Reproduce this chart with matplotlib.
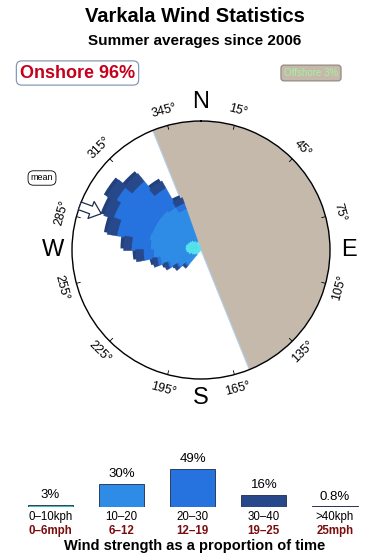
import numpy as np
from matplotlib import pyplot as plt
from matplotlib import transforms

plt.rcParams["font.family"] = ["Liberation Sans", "DejaVu Sans"]

# rose petals: bearing of each direction bin
directions = [225, 235, 245, 255, 265, 275, 285, 295, 305, 315, 325, 335]

# length of each speed class on every petal (rose scale, circle edge = 130)
seg_0_10 = [6, 8, 10, 13, 15, 16, 16, 15, 14, 13, 11, 9]
seg_10_20 = [13, 18, 24, 29, 33, 35, 37, 37, 38, 39, 39, 35]
seg_20_30 = [2, 2, 2, 3, 10, 19, 33, 42, 47, 38, 22, 6]
seg_30_40 = [3, 4, 4, 5, 8, 8, 10, 10, 10, 10, 8, 6]

# speed classes (bottom legend)
speed_pct = [3, 30, 49, 16, 0.8]
pct_labels = ["3%", "30%", "49%", "16%", "0.8%"]
kph_labels = ["0–10kph", "10–20", "20–30", "30–40", ">40kph"]
mph_labels = ["0–6mph", "6–12", "12–19", "19–25", "25mph"]
speed_colors = ["#55e3ee", "#2e8ce6", "#2672de", "#27498c", "#111111"]
legend_colors = ["#3fbcbc", "#2e8ce6", "#2672de", "#27498c", "#111111"]

offshore_start = 338  # offshore sector runs clockwise from this bearing
offshore_width = 180
mean_dir = 290
onshore_pct = 96
offshore_pct = 3

R = 130  # rose radius

fig = plt.figure(figsize=(3.9, 5.6), dpi=100)

# titles
fig.text(0.5, 1 - 17 / 560, "Varkala Wind Statistics", ha="center", va="center",
         fontsize=14.5, fontweight="bold")
fig.text(0.5, 1 - 41 / 560, "Summer averages since 2006", ha="center", va="center",
         fontsize=11, fontweight="bold")

# onshore / offshore boxes
fig.text(77.5 / 390, 1 - 73 / 560, f"Onshore {onshore_pct}%", ha="center", va="center",
         fontsize=13, fontweight="bold", color="#c4001c",
         bbox=dict(boxstyle="round,pad=0.2,rounding_size=0.3", fc="white", ec="#7890b0", lw=0.8))
fig.text(311 / 390, 1 - 73 / 560, f"Offshore {offshore_pct}%", ha="center", va="center",
         fontsize=7, color="#a8f0a0",
         bbox=dict(boxstyle="round,pad=0.3,rounding_size=0.3", fc="#c5b9ac", ec="#8c8478", lw=0.8))
fig.text(42 / 390, 1 - 178 / 560, "mean", ha="center", va="center", fontsize=6.5,
         bbox=dict(boxstyle="round,pad=0.3,rounding_size=0.6", fc="white", ec="black", lw=0.6))

# the rose
ax = fig.add_axes([72 / 390, 181 / 560, 258 / 390, 258 / 560], projection="polar")
ax.set_theta_zero_location("N")
ax.set_theta_direction(-1)
ax.set_ylim(0, R)
ax.set_xticks([])
ax.set_yticks([])
ax.grid(False)
ax.spines["polar"].set_linewidth(1.0)

# offshore half of the circle
ax.bar(np.deg2rad(offshore_start + offshore_width / 2), R, width=np.deg2rad(offshore_width),
       color="#c5b9ac", edgecolor="#b4cfea", linewidth=0.8)

theta = np.deg2rad(directions)
totals = np.array(seg_0_10) + np.array(seg_10_20) + np.array(seg_20_30) + np.array(seg_30_40)

# dark shadow behind the petals, shifted up-left a little for the 3d look
shadow = ax.bar(theta, totals, width=np.deg2rad(11), color="#22407a", linewidth=0)
shift = transforms.offset_copy(ax.transData, fig=fig, x=-2.2, y=1.6, units="points")
for p in shadow:
    p.set_transform(shift)

bottom = np.zeros(len(directions))
for seg, col in zip([seg_0_10, seg_10_20, seg_20_30, seg_30_40], speed_colors):
    ax.bar(theta, seg, width=np.deg2rad(11), bottom=bottom, color=col,
           edgecolor=col, linewidth=0.3)
    bottom = bottom + np.array(seg)

# degree ticks and labels
for b in range(15, 360, 30):
    th = np.deg2rad(b)
    ax.plot([th, th], [R - 4, R], color="black", lw=0.6)
    if b < 90 or b > 270:
        rot = -b
    else:
        rot = 180 - b
    ax.text(th, R + 15, f"{b}°", rotation=rot, ha="center", va="center",
            fontsize=9, rotation_mode="anchor")

for lab, b in zip(["N", "E", "S", "W"], [0, 90, 180, 270]):
    ax.text(np.deg2rad(b), R + 19, lab, ha="center", va="center", fontsize=17)

# mean direction arrow (hollow, pointing in toward the centre)
ax.annotate("", xy=(np.deg2rad(mean_dir), R - 23), xytext=(np.deg2rad(mean_dir), R),
            arrowprops=dict(arrowstyle="simple,head_length=0.6,head_width=1.0,tail_width=0.45",
                            fc="white", ec="#1c2c50", lw=0.9, mutation_scale=13,
                            shrinkA=0, shrinkB=0))

# speed legend at the bottom
lax = fig.add_axes([15 / 390, 53 / 560, 360 / 390, 46.8 / 560])
lax.set_xlim(-0.499, 4.563)
lax.set_ylim(0, 60)
lax.axis("off")
x = np.arange(len(speed_pct))
lax.bar(x, speed_pct, width=0.634, color=legend_colors, edgecolor="#1a2a4a", linewidth=0.6)
for i in range(len(speed_pct)):
    lax.annotate(pct_labels[i], xy=(i, speed_pct[i]), xytext=(0, 7), textcoords="offset points",
                 ha="center", va="center", fontsize=9.5)
    lax.annotate(kph_labels[i], xy=(i, 0), xytext=(0, -7.5), textcoords="offset points",
                 ha="center", va="center", fontsize=8.3)
    lax.annotate(mph_labels[i], xy=(i, 0), xytext=(0, -17), textcoords="offset points",
                 ha="center", va="center", fontsize=8.3, fontweight="bold", color="#7a0c0c")

fig.text(0.5, 1 - 546 / 560, "Wind strength as a proportion of time", ha="center", va="center",
         fontsize=10.5, fontweight="bold")

fig.savefig("out.png", dpi=100)
